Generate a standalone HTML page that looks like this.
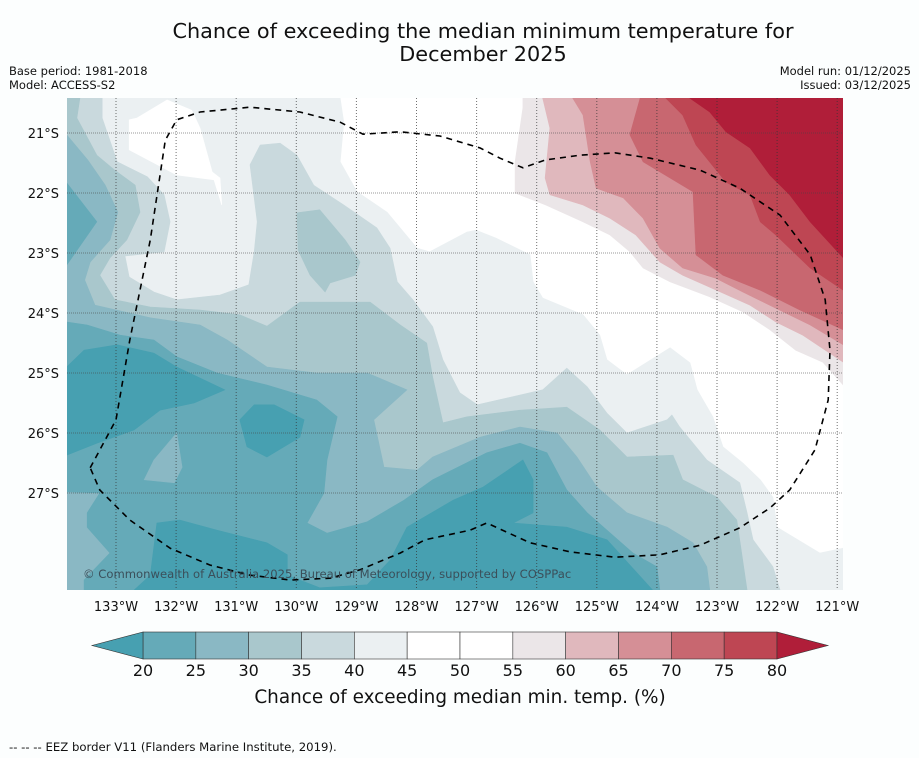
<!DOCTYPE html>
<html><head><meta charset="utf-8"><style>
html,body{margin:0;padding:0;background:#fcfefe;}
svg{display:block;font-family:"DejaVu Sans","Liberation Sans",sans-serif;}
</style></head><body>
<svg id="chart" width="919" height="758" viewBox="0 0 919 758" xmlns="http://www.w3.org/2000/svg">
<rect x="0" y="0" width="919" height="758" fill="#fcfefe"/>
<text x="483" y="38" text-anchor="middle" font-size="20.8" fill="#111">Chance of exceeding the median minimum temperature for</text>
<text x="483" y="61" text-anchor="middle" font-size="20.8" fill="#111">December 2025</text>
<text x="9" y="75" font-size="11.5" fill="#111">Base period: 1981-2018</text>
<text x="9" y="89" font-size="11.5" fill="#111">Model: ACCESS-S2</text>
<text x="911" y="75" text-anchor="end" font-size="11.5" fill="#111">Model run: 01/12/2025</text>
<text x="911" y="89" text-anchor="end" font-size="11.5" fill="#111">Issued: 03/12/2025</text>
<defs><clipPath id="mapclip"><rect x="67" y="98" width="776" height="492"/></clipPath></defs>
<g id="map" clip-path="url(#mapclip)"></g>
<g id="axes"></g>
<g id="cbar"></g>
<text x="460" y="703" text-anchor="middle" font-size="18.4" fill="#111">Chance of exceeding median min. temp. (%)</text>
<text x="9" y="751" font-size="11.7" fill="#111">--  --  -- EEZ border V11 (Flanders Marine Institute, 2019).</text>
</svg>
<script>
const levels = [20,25,30,35,40,45,50,55,60,65,70,75,80];
const binColors = ["#47a0b1","#65aab8","#8ab8c4","#a9c7cc","#c9d9dd","#ebf0f2","#ffffff","#ffffff","#ebe6e8","#e0b8bd","#d58f96","#c86770","#be4653","#b01e39"];
const lonTicks = [133,132,131,130,129,128,127,126,125,124,123,122,121];
const latTicks = [21,22,23,24,25,26,27];
const below45 = [[129.27,20.42],[129.21,20.82],[129.27,21.48],[128.99,21.98],[128.49,22.32],[127.99,22.92],[127.78,22.98],[127.16,22.65],[127.01,22.62],[126.68,22.75],[126.11,23.03],[126.06,23.48],[125.90,23.75],[125.23,24.03],[124.95,24.37],[124.83,24.78],[124.50,25.03],[123.78,24.58],[123.45,24.83],[123.33,25.28],[123.07,25.73],[122.90,26.23],[122.57,26.50],[122.28,26.78],[122.07,27.07],[122.00,27.57],[121.29,28.00],[120.90,27.92],[120.90,28.62],[133.82,28.62],[133.82,20.42]];
const pocket45 = [[132.78,20.78],[132.65,20.75],[132.15,20.45],[131.74,20.62],[131.60,20.92],[131.40,21.65],[131.27,21.75],[131.24,22.20],[131.37,21.78],[131.99,21.70],[132.78,21.28]];
const below40 = [[133.82,20.42],[133.23,20.42],[133.23,20.75],[132.98,21.48],[132.48,21.73],[132.20,22.03],[132.10,22.48],[132.20,22.98],[132.85,23.05],[132.78,23.40],[132.37,23.65],[131.99,23.78],[131.27,23.70],[130.79,23.53],[130.70,22.98],[130.65,22.48],[130.77,21.53],[130.60,21.20],[130.27,21.17],[129.99,21.37],[129.71,21.87],[129.21,22.20],[128.66,22.58],[128.44,22.92],[128.32,23.48],[128.06,23.78],[127.73,24.23],[127.56,24.78],[127.28,25.33],[126.99,25.53],[125.90,25.28],[125.50,24.92],[125.16,25.23],[124.83,25.67],[124.50,26.00],[123.83,25.78],[123.75,25.70],[123.62,25.90],[123.17,26.45],[122.62,26.83],[122.50,27.33],[122.40,27.78],[122.07,28.23],[121.95,28.62],[133.82,28.62]];
const below35 = [[133.82,20.42],[133.60,20.42],[133.65,20.75],[133.32,21.37],[133.02,21.62],[132.68,21.87],[132.60,22.32],[132.82,22.78],[133.10,23.08],[133.27,23.37],[133.02,23.78],[132.43,23.90],[131.60,23.95],[130.94,24.03],[130.49,24.22],[129.94,23.82],[129.54,23.82],[128.77,23.82],[128.27,24.20],[127.83,24.50],[127.73,25.07],[127.56,25.83],[127.16,25.73],[126.28,25.62],[125.50,25.57],[124.95,25.95],[124.50,26.40],[123.73,26.37],[123.57,26.78],[123.00,27.07],[122.67,27.45],[122.50,28.62],[133.82,28.62]];
const blob35 = [[129.99,22.33],[129.61,22.28],[129.19,22.78],[128.94,23.15],[129.02,23.37],[129.44,23.50],[129.52,23.65],[129.77,23.37],[129.97,22.95]];
const below30 = [[133.82,21.03],[133.47,21.45],[133.18,21.87],[132.97,22.32],[133.10,22.78],[133.43,23.15],[133.52,23.45],[133.35,23.87],[132.43,24.08],[131.60,24.20],[131.15,24.45],[130.49,24.90],[129.66,25.00],[128.82,25.00],[128.16,25.28],[128.71,25.78],[128.54,26.57],[127.99,26.62],[127.73,26.40],[126.94,26.07],[126.28,25.90],[125.66,26.00],[125.33,26.40],[125.00,26.90],[124.50,27.33],[123.83,27.57],[123.40,27.83],[123.17,28.23],[123.12,28.62],[133.82,28.62]];
const below25a = [[133.82,21.83],[133.32,22.48],[133.82,23.20]];
const below25b = [[133.82,24.15],[133.48,24.20],[132.93,24.37],[132.37,24.45],[131.99,24.73],[131.32,25.00],[130.49,25.20],[129.66,25.45],[129.32,25.73],[129.49,26.45],[129.54,27.00],[129.82,27.50],[129.49,27.67],[128.82,27.48],[128.21,27.12],[127.73,26.78],[126.83,26.33],[126.28,26.17],[125.83,26.33],[125.50,26.95],[125.16,27.33],[124.40,28.00],[124.00,28.23],[123.95,28.62],[133.53,28.62],[133.53,28.45],[133.10,28.00],[133.48,27.57],[133.48,27.33],[133.27,27.00],[133.82,26.98]];
const island30 = [[131.99,26.00],[131.90,26.57],[132.03,26.83],[132.53,26.78],[132.37,26.45]];
const below20a = [[133.82,24.90],[133.53,24.62],[132.98,24.53],[132.37,24.67],[131.99,24.90],[131.19,25.28],[131.70,25.50],[132.27,25.62],[132.70,25.95],[133.32,26.17],[133.82,26.37]];
const below20b = [[130.94,25.78],[130.70,25.53],[130.37,25.53],[129.87,25.78],[129.94,26.07],[130.49,26.40],[130.82,26.23]];
const below20c = [[132.70,28.62],[132.43,28.37],[132.32,27.50],[131.94,27.45],[131.32,27.62],[130.49,27.83],[130.15,28.03],[130.15,28.37],[129.61,28.58],[128.82,28.53],[128.44,28.12],[128.16,27.57],[127.39,27.12],[126.89,26.90],[126.23,26.45],[126.06,26.78],[126.06,27.33],[126.39,27.50],[125.50,27.57],[124.83,27.78],[124.07,28.62]];
const above55 = [[126.23,20.42],[126.23,20.58],[126.36,21.48],[126.36,22.00],[125.85,22.20],[125.23,22.48],[124.78,22.70],[124.45,22.98],[124.23,23.25],[123.78,23.48],[123.12,23.73],[122.57,23.98],[122.12,24.28],[121.69,24.62],[121.24,24.82],[120.90,25.20],[120.90,20.42]];
const above60 = [[125.90,20.42],[125.78,20.92],[125.86,21.75],[125.78,22.03],[125.23,22.20],[124.78,22.42],[124.35,22.70],[123.95,23.15],[123.57,23.37],[123.12,23.57],[122.45,23.87],[122.02,24.15],[121.57,24.37],[120.90,24.82],[120.90,20.42]];
const above65 = [[125.40,20.42],[125.23,20.70],[125.11,21.48],[125.01,21.92],[124.56,22.08],[124.23,22.42],[123.95,22.92],[123.57,23.25],[123.02,23.42],[122.57,23.65],[122.02,23.92],[121.45,24.20],[120.90,24.53],[120.90,20.42]];
const above70 = [[124.28,20.42],[124.45,21.03],[124.23,21.48],[123.40,21.98],[123.35,23.03],[122.90,23.37],[122.28,23.62],[121.62,23.95],[120.90,24.28],[120.90,20.42]];
const above75 = [[123.85,20.42],[123.57,20.70],[123.35,21.20],[122.85,21.82],[122.45,22.03],[122.28,22.48],[122.02,22.70],[121.45,23.25],[120.90,23.62],[120.90,20.42]];
const above80 = [[123.45,20.42],[123.12,20.65],[122.85,20.98],[122.45,21.25],[122.12,21.70],[121.79,22.03],[121.45,22.48],[120.90,23.08],[120.90,20.42]];
const eezBorder = [[133.43,26.58],[133.00,25.78],[132.77,24.45],[132.43,22.78],[132.18,21.12],[131.99,20.78],[131.60,20.65],[130.77,20.57],[129.94,20.65],[129.27,20.82],[128.89,21.02],[128.27,20.98],[127.61,21.05],[126.94,21.25],[126.61,21.42],[126.23,21.58],[125.86,21.45],[125.28,21.37],[124.70,21.33],[124.11,21.42],[123.28,21.62],[122.62,21.92],[121.95,22.37],[121.45,23.03],[121.20,23.78],[121.12,24.62],[121.15,25.45],[121.37,26.28],[121.79,26.95],[122.12,27.25],[122.62,27.58],[123.28,27.87],[123.95,28.03],[124.70,28.07],[125.45,27.98],[126.11,27.83],[126.83,27.50],[127.11,27.62],[127.86,27.78],[128.27,28.00],[128.94,28.28],[129.44,28.42],[130.10,28.45],[130.77,28.37],[131.44,28.20],[132.10,27.92],[132.77,27.45],[133.27,26.95],[133.43,26.58]];

const NS = "http://www.w3.org/2000/svg";
function xScale(lonW){ return 116 + (133 - lonW) * 60.1; }
function yScale(latS){ return 133 + (latS - 21) * 60; }
function pts(arr){ return arr.map(p => xScale(p[0]).toFixed(1) + "," + yScale(p[1]).toFixed(1)).join(" "); }
const map = document.getElementById("map");
function poly(arr, bin, name){
  const el = document.createElementNS(NS, "polygon");
  el.setAttribute("points", pts(arr));
  el.setAttribute("fill", binColors[bin]);
  el.setAttribute("stroke", binColors[bin]);
  el.setAttribute("stroke-width", "0.6");
  
  
  map.appendChild(el);
}
const base = document.createElementNS(NS, "rect");
base.setAttribute("x", 67); base.setAttribute("y", 98); base.setAttribute("width", 776); base.setAttribute("height", 492); base.setAttribute("fill", "#ffffff");


map.appendChild(base);
poly(below45, 5, "region-40-45");
poly(pocket45, 6, "region-45-50-pocket");
poly(below40, 4, "region-35-40");
poly(below35, 3, "region-30-35");
poly(blob35, 3, "region-30-35-blob");
poly(below30, 2, "region-25-30");
poly(below25a, 1, "region-20-25-west");
poly(below25b, 1, "region-20-25");
poly(island30, 2, "region-25-30-island");
poly(below20a, 0, "region-below-20-west");
poly(below20b, 0, "region-below-20-centre");
poly(below20c, 0, "region-below-20-south");
poly(above55, 8, "region-55-60");
poly(above60, 9, "region-60-65");
poly(above65, 10, "region-65-70");
poly(above70, 11, "region-70-75");
poly(above75, 12, "region-75-80");
poly(above80, 13, "region-above-80");

lonTicks.forEach(l => {
  const ln = document.createElementNS(NS, "line");
  ln.setAttribute("x1", xScale(l)); ln.setAttribute("x2", xScale(l));
  ln.setAttribute("y1", 98); ln.setAttribute("y2", 590);
  ln.setAttribute("stroke", "#333"); ln.setAttribute("stroke-width", "1"); ln.setAttribute("stroke-dasharray", "1,2"); ln.setAttribute("opacity", "0.7");
  
  
  map.appendChild(ln);
});
latTicks.forEach(l => {
  const ln = document.createElementNS(NS, "line");
  ln.setAttribute("x1", 67); ln.setAttribute("x2", 843);
  ln.setAttribute("y1", yScale(l)); ln.setAttribute("y2", yScale(l));
  ln.setAttribute("stroke", "#444"); ln.setAttribute("stroke-width", "1"); ln.setAttribute("stroke-dasharray", "1,1"); ln.setAttribute("opacity", "0.55");
  
  
  map.appendChild(ln);
});
const eez = document.createElementNS(NS, "polyline");
eez.setAttribute("points", pts(eezBorder));
eez.setAttribute("fill", "none"); eez.setAttribute("stroke", "#000"); eez.setAttribute("stroke-width", "1.6"); eez.setAttribute("stroke-dasharray", "6,5");


map.appendChild(eez);
const cp = document.createElementNS(NS, "text");
cp.setAttribute("x", 83); cp.setAttribute("y", 578); cp.setAttribute("font-size", "11.6"); cp.setAttribute("fill", "#3b4f5a");
cp.textContent = "© Commonwealth of Australia 2025, Bureau of Meteorology, supported by COSPPac";


map.appendChild(cp);

const axes = document.getElementById("axes");
lonTicks.forEach(l => {
  const t = document.createElementNS(NS, "text");
  t.setAttribute("x", xScale(l)); t.setAttribute("y", 611); t.setAttribute("text-anchor", "middle"); t.setAttribute("font-size", "13"); t.setAttribute("fill", "#111");
  t.textContent = l + "°W";
  
  
  axes.appendChild(t);
});
latTicks.forEach(l => {
  const t = document.createElementNS(NS, "text");
  t.setAttribute("x", 59); t.setAttribute("y", yScale(l) + 5); t.setAttribute("text-anchor", "end"); t.setAttribute("font-size", "13"); t.setAttribute("fill", "#111");
  t.textContent = l + "°S";
  
  
  axes.appendChild(t);
});

const cb = document.getElementById("cbar");
const cbX0 = 143, cbX1 = 777, cbY = 632, cbH = 27;
function cbScale(v){ return cbX0 + (v - levels[0]) / (levels[levels.length-1] - levels[0]) * (cbX1 - cbX0); }
for (let i = 0; i < levels.length - 1; i++) {
  const r = document.createElementNS(NS, "rect");
  r.setAttribute("x", cbScale(levels[i])); r.setAttribute("y", cbY);
  r.setAttribute("width", cbScale(levels[i+1]) - cbScale(levels[i])); r.setAttribute("height", cbH);
  r.setAttribute("fill", binColors[i+1]); r.setAttribute("stroke", "#333"); r.setAttribute("stroke-width", "0.6");
  
  
  cb.appendChild(r);
}
const triL = document.createElementNS(NS, "polygon");
triL.setAttribute("points", cbX0 + "," + cbY + " " + cbX0 + "," + (cbY+cbH) + " 92," + (cbY+cbH/2));
triL.setAttribute("fill", binColors[0]); triL.setAttribute("stroke", "#333"); triL.setAttribute("stroke-width", "0.6");


cb.appendChild(triL);
const triR = document.createElementNS(NS, "polygon");
triR.setAttribute("points", cbX1 + "," + cbY + " " + cbX1 + "," + (cbY+cbH) + " 828," + (cbY+cbH/2));
triR.setAttribute("fill", binColors[13]); triR.setAttribute("stroke", "#333"); triR.setAttribute("stroke-width", "0.6");


cb.appendChild(triR);
levels.forEach(v => {
  const t = document.createElementNS(NS, "text");
  t.setAttribute("x", cbScale(v)); t.setAttribute("y", 676); t.setAttribute("text-anchor", "middle"); t.setAttribute("font-size", "16"); t.setAttribute("fill", "#111");
  t.textContent = v;
  
  
  cb.appendChild(t);
});
</script>
</body></html>
